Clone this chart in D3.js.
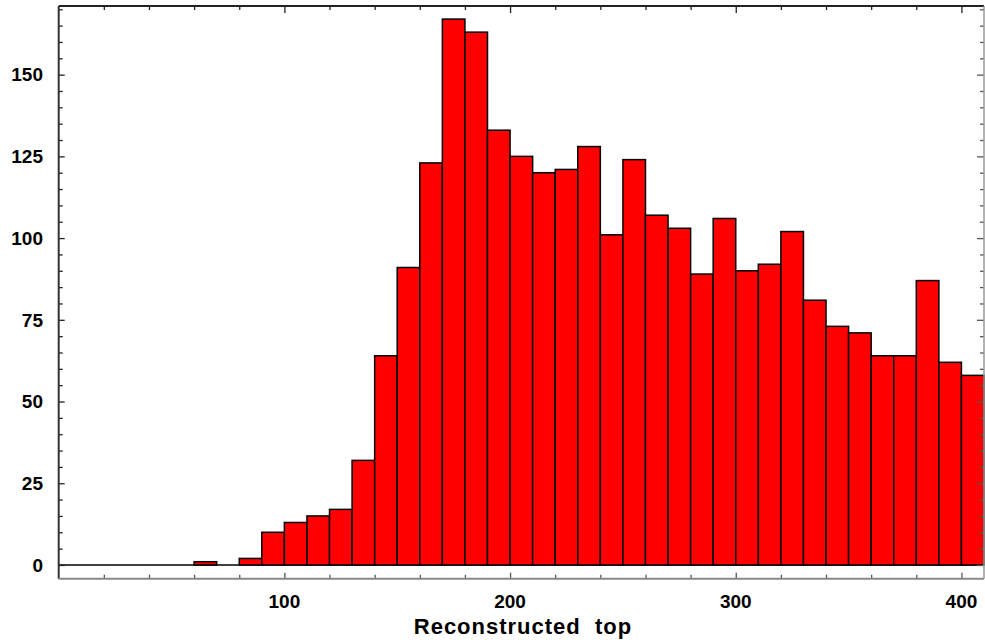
<!DOCTYPE html>
<html>
<head>
<meta charset="utf-8">
<script src="https://cdn.jsdelivr.net/npm/d3@7"></script>
<style>
  body { margin: 0; background: #fff; }
  svg { display: block; font-family: "Liberation Sans", Arial, sans-serif; }
  .lbl { font-weight: bold; font-size: 19px; fill: #000; }
  .title { font-weight: bold; font-size: 22px; letter-spacing: 1px; white-space: pre; }
</style>
</head>
<body>
<svg width="985" height="642"></svg>
<script>
// histogram bins (lower edge), width 10
const binLow = [0, 10, 20, 30, 40, 50, 60, 70, 80, 90, 100, 110, 120, 130, 140, 150, 160, 170, 180, 190,
                200, 210, 220, 230, 240, 250, 260, 270, 280, 290, 300, 310, 320, 330, 340, 350, 360, 370, 380, 390, 400];
const counts = [0, 0, 0, 0, 0, 0, 1, 0, 2, 10, 13, 15, 17, 32, 64, 91, 123, 167, 163, 133,
                125, 120, 121, 128, 101, 124, 107, 103, 89, 106, 90, 92, 102, 81, 73, 71, 64, 64, 87, 62, 58];
const binWidth = 10;
const xMajor = [100, 200, 300, 400];
const xMinor = [20, 40, 60, 80, 120, 140, 160, 180, 220, 240, 260, 280, 320, 340, 360, 380];
const yMajor = [0, 25, 50, 75, 100, 125, 150];
const yMinor = [5, 10, 15, 20, 30, 35, 40, 45, 55, 60, 65, 70, 80, 85, 90, 95, 105, 110, 115, 120, 130, 135, 140, 145, 155, 160, 165, 170];
const xTitle = "Reconstructed  top";

const bins = binLow.map((b, i) => ({ x0: b, x1: b + binWidth, n: counts[i] }));

const svg = d3.select('svg');
const padL = 58.7, padR = 984, padT = 6, padB = 578.7;

const x = d3.scaleLinear().domain([0, 410]).range([padL, padR]);
const y = d3.scaleLinear().domain([-4.2, 171]).range([padB, padT]);

// baseline through empty bins
svg.append('line')
    .attr('x1', x(0)).attr('x2', x(410))
    .attr('y1', y(0)).attr('y2', y(0))
    .attr('stroke', '#000').attr('stroke-width', 1.5);

svg.selectAll('rect.bar')
    .data(bins.filter(d => d.n > 0))
    .enter()
    .append('rect')
    .attr('class', 'bar')
    .attr('x', d => x(d.x0))
    .attr('width', d => x(d.x1) - x(d.x0))
    .attr('y', d => y(d.n))
    .attr('height', d => y(0) - y(d.n))
    .attr('fill', '#ff0000')
    .attr('stroke', '#000')
    .attr('stroke-width', 1.5);

// ticks, all pointing inward
function ticks(axisFn, scale, pos, values, size, color) {
    const g = svg.append('g')
        .attr('transform', pos)
        .call(axisFn(scale).tickValues(values).tickSize(size).tickFormat(''));
    g.select('.domain').remove();
    g.selectAll('line').attr('stroke', color).attr('stroke-width', 1.3);
}
ticks(d3.axisBottom, x, `translate(0,${padB})`, xMajor, -6, '#555');
ticks(d3.axisBottom, x, `translate(0,${padB})`, xMinor, -4, '#555');
ticks(d3.axisTop, x, `translate(0,${padT})`, xMajor, -7, '#222');
ticks(d3.axisTop, x, `translate(0,${padT})`, xMinor, -4, '#222');
ticks(d3.axisLeft, y, `translate(${padL},0)`, yMajor, -6, '#222');
ticks(d3.axisLeft, y, `translate(${padL},0)`, yMinor, -4, '#222');
ticks(d3.axisRight, y, `translate(${padR},0)`, yMajor, -7, '#555');
ticks(d3.axisRight, y, `translate(${padR},0)`, yMinor, -4, '#555');

// frame
svg.append('line').attr('x1', padL).attr('x2', padR).attr('y1', padT).attr('y2', padT)
    .attr('stroke', '#222').attr('stroke-width', 2);
svg.append('line').attr('x1', padL).attr('x2', padL).attr('y1', padT).attr('y2', padB)
    .attr('stroke', '#333').attr('stroke-width', 2);
svg.append('line').attr('x1', padL).attr('x2', padR).attr('y1', padB).attr('y2', padB)
    .attr('stroke', '#888').attr('stroke-width', 2);
svg.append('line').attr('x1', padR).attr('x2', padR).attr('y1', padT).attr('y2', padB)
    .attr('stroke', '#999').attr('stroke-width', 1.5);

// labels
svg.selectAll('text.ylab')
    .data(yMajor)
    .enter()
    .append('text')
    .attr('class', 'lbl ylab')
    .attr('x', 43)
    .attr('y', d => y(d))
    .attr('dy', '0.36em')
    .attr('text-anchor', 'end')
    .text(d => d);

svg.selectAll('text.xlab')
    .data(xMajor)
    .enter()
    .append('text')
    .attr('class', 'lbl xlab')
    .attr('x', d => x(d))
    .attr('y', 608)
    .attr('text-anchor', 'middle')
    .text(d => d);

svg.append('text')
    .attr('class', 'title')
    .attr('x', 523)
    .attr('y', 634)
    .attr('text-anchor', 'middle')
    .text(xTitle);
</script>
</body>
</html>
